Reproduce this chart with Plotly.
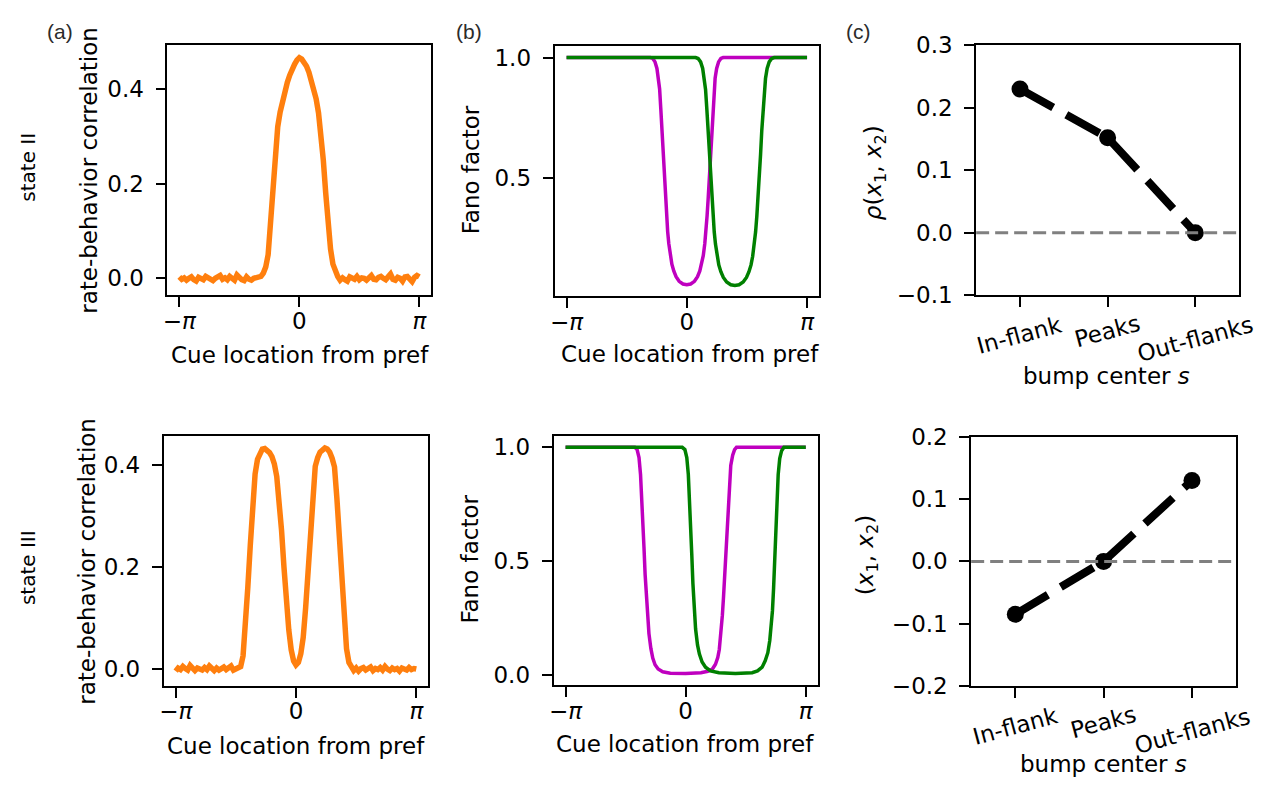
import numpy as np
import plotly.graph_objects as go

W, H = 1266, 792
PI = np.pi

# ---------------- data ----------------
cue_x = np.linspace(-PI, PI, 101)

rb_state2 = [
    0.003, -0.002, 0.001, -0.004, 0.000, 0.003, -0.003, -0.006, 0.002, 0.000,
    -0.003, 0.004, 0.001, -0.002, -0.005, 0.000, 0.003, 0.006, -0.002, 0.001,
    -0.003, 0.004, 0.000, -0.004, 0.007, 0.001, -0.003, -0.005, 0.003, -0.002,
    -0.004, 0.000, 0.002, 0.003,
    0.004, 0.011, 0.024, 0.050, 0.113, 0.195, 0.264, 0.321, 0.352, 0.377,
    0.398, 0.415, 0.430, 0.444, 0.453, 0.462, 0.467, 0.464, 0.458, 0.449,
    0.436, 0.420, 0.400, 0.380, 0.350, 0.310, 0.250, 0.180, 0.112, 0.062,
    0.030, 0.012, 0.004,
    -0.004, 0.001, -0.003, -0.006, 0.003, 0.000, -0.002, 0.004, -0.003, 0.001,
    0.000, -0.004, 0.003, 0.006, -0.002, -0.003, 0.002, 0.004, 0.000, -0.003,
    0.003, 0.009, -0.002, -0.004, 0.002, 0.000, -0.006, 0.003, 0.004, -0.003,
    -0.007, 0.002, 0.006, 0.003,
]

rb_state3 = [
    -0.004, 0.002, -0.001, 0.005, 0.001, -0.002, 0.007, 0.000, -0.003, 0.002,
    0.001, -0.002, 0.003, -0.001, 0.006, 0.000, -0.003, 0.002, -0.002, 0.001,
    0.004, -0.001, 0.002, 0.006, -0.002, 0.001, 0.002,
    0.005, 0.026, 0.083, 0.162, 0.243, 0.320, 0.383, 0.412, 0.426, 0.432,
    0.433, 0.429, 0.425, 0.417, 0.403, 0.378, 0.336, 0.272, 0.200, 0.130,
    0.077, 0.038, 0.016, 0.008, 0.013, 0.030, 0.062, 0.120, 0.187, 0.270,
    0.355, 0.398, 0.415, 0.426, 0.430, 0.434, 0.432, 0.426, 0.414, 0.397,
    0.335, 0.268, 0.180, 0.098, 0.040, 0.013, 0.004,
    -0.003, 0.002, -0.004, 0.001, 0.003, -0.002, 0.000, 0.004, -0.003, 0.001,
    -0.001, 0.003, -0.002, 0.005, 0.000, -0.003, 0.002, -0.001, 0.001, -0.004,
    0.002, 0.000, -0.002, 0.003, -0.001, 0.001, 0.000,
]

# Fano factor, state II
fano2_m_x = [-3.1416, -0.95, -0.89, -0.83, -0.78, -0.74, -0.71, -0.68, -0.65, -0.62,
             -0.59, -0.56, -0.53, -0.50, -0.47, -0.43, -0.39, -0.34, -0.28, -0.20,
             -0.10, 0.0, 0.10, 0.20, 0.28, 0.34, 0.39, 0.43, 0.47, 0.50,
             0.53, 0.56, 0.59, 0.62, 0.65, 0.68, 0.71, 0.74, 0.78, 0.83,
             0.89, 0.95, 3.1416]
fano2_m_y = [1.0, 1.0, 0.996, 0.982, 0.955, 0.915, 0.87, 0.79, 0.70, 0.60,
             0.51, 0.42, 0.345, 0.28, 0.23, 0.18, 0.145, 0.117, 0.093, 0.074,
             0.063, 0.060, 0.063, 0.074, 0.093, 0.117, 0.145, 0.18, 0.23, 0.28,
             0.345, 0.42, 0.51, 0.60, 0.70, 0.79, 0.87, 0.915, 0.955, 0.982,
             0.996, 1.0, 1.0]
fano2_g_x = [-3.1416, 0.231, 0.296, 0.361, 0.415, 0.458, 0.490, 0.523, 0.555, 0.587,
             0.620, 0.652, 0.685, 0.717, 0.749, 0.793, 0.836, 0.890, 0.955, 1.041,
             1.149, 1.257, 1.365, 1.473, 1.559, 1.624, 1.678, 1.721, 1.765, 1.797,
             1.829, 1.862, 1.894, 1.927, 1.959, 1.991, 2.024, 2.056, 2.099, 2.153,
             2.218, 2.283, 3.1416]
fano2_g_y = [1.0, 1.0, 0.996, 0.982, 0.955, 0.913, 0.868, 0.788, 0.698, 0.598,
             0.508, 0.418, 0.343, 0.278, 0.228, 0.178, 0.142, 0.114, 0.090, 0.071,
             0.060, 0.057, 0.060, 0.071, 0.090, 0.114, 0.142, 0.178, 0.228, 0.278,
             0.343, 0.418, 0.508, 0.598, 0.698, 0.788, 0.868, 0.913, 0.955, 0.982,
             0.996, 1.0, 1.0]

# Fano factor, state III
fano3_m_x = [-3.1416, -1.33, -1.27, -1.22, -1.18, -1.15, -1.12, -1.09, -1.06, -1.03,
             -1.00, -0.96, -0.91, -0.86, -0.80, -0.72, -0.60, -0.40, 0.0, 0.40,
             0.58, 0.70, 0.78, 0.84, 0.88, 0.92, 0.96, 0.99, 1.02, 1.05,
             1.08, 1.11, 1.14, 1.18, 1.23, 1.28, 1.33, 3.1416]
fano3_m_y = [1.0, 1.0, 0.99, 0.955, 0.88, 0.79, 0.68, 0.56, 0.44, 0.34,
             0.26, 0.18, 0.115, 0.072, 0.043, 0.024, 0.012, 0.006, 0.004, 0.008,
             0.014, 0.024, 0.045, 0.075, 0.11, 0.17, 0.26, 0.34, 0.44, 0.55,
             0.66, 0.76, 0.85, 0.92, 0.965, 0.99, 1.0, 1.0]
fano3_g_x = [-3.1416, -0.09, -0.02, 0.03, 0.07, 0.10, 0.13, 0.16, 0.19, 0.22,
             0.26, 0.31, 0.36, 0.43, 0.52, 0.65, 0.87, 1.30, 1.74, 1.88,
             2.00, 2.08, 2.15, 2.20, 2.24, 2.27, 2.30, 2.33, 2.36, 2.39,
             2.42, 2.46, 2.51, 2.57, 3.1416]
fano3_g_y = [1.0, 1.0, 0.99, 0.955, 0.88, 0.78, 0.66, 0.53, 0.40, 0.30,
             0.20, 0.13, 0.09, 0.055, 0.032, 0.016, 0.008, 0.004, 0.008, 0.016,
             0.032, 0.06, 0.096, 0.15, 0.21, 0.28, 0.38, 0.52, 0.66, 0.78,
             0.88, 0.95, 0.985, 1.0, 1.0]

bump_cats = ["In-flank", "Peaks", "Out-flanks"]
rho_state2 = [0.23, 0.152, 0.0]
rho_state3 = [-0.085, 0.0, 0.13]

pi_tickvals = [-PI, 0, PI]
pi_ticktext = ["\u2212<i>\u03c0</i>", "0", "<i>\u03c0</i>"]

# ---------------- figure ----------------
ORANGE = "#ff7f0e"
MAGENTA = "#bf00bf"
GREEN = "#008000"
FONT = "DejaVu Sans"

fig = go.Figure()

def dom_x(a, b):
    return [a / W, b / W]

def dom_y(top, bottom):
    return [1 - bottom / H, 1 - top / H]

# subplot boxes (pixels): left, right, top, bottom
boxes = {
    1: (163, 428, 33.3, 291.7),
    2: (551.7, 817.3, 34.3, 292.7),
    3: (975, 1239, 33.3, 291.7),
    4: (159.3, 425, 437.7, 695.7),
    5: (550.7, 816, 437.3, 695),
    6: (970, 1236, 438.3, 695.7),
}

xr_pi = [-PI - 0.314, PI + 0.314]
yranges = {
    1: [-0.0356, 0.4935],
    2: [0.013, 1.047],
    3: [-0.1, 0.3],
    4: [-0.033, 0.457],
    5: [-0.047, 1.05],
    6: [-0.2, 0.2],
}
ytick = {
    1: ([0.0, 0.2, 0.4], ["0.0", "0.2", "0.4"]),
    2: ([0.5, 1.0], ["0.5", "1.0"]),
    3: ([-0.1, 0.0, 0.1, 0.2, 0.3], ["\u22120.1", "0.0", "0.1", "0.2", "0.3"]),
    4: ([0.0, 0.2, 0.4], ["0.0", "0.2", "0.4"]),
    5: ([0.0, 0.5, 1.0], ["0.0", "0.5", "1.0"]),
    6: ([-0.2, -0.1, 0.0, 0.1, 0.2], ["\u22120.2", "\u22120.1", "0.0", "0.1", "0.2"]),
}

axis_common = dict(showline=True, mirror=True, linecolor="black", linewidth=1.7,
                   ticks="outside", ticklen=10, tickwidth=1.7, tickcolor="black",
                   showgrid=False, zeroline=False,
                   tickfont=dict(family=FONT, size=23, color="black"))

layout_axes = {}
for i, (l, r, t, b) in boxes.items():
    xa = dict(axis_common, domain=dom_x(l, r), anchor=f"y{i}")
    ya = dict(axis_common, domain=dom_y(t, b), anchor=f"x{i}",
              range=yranges[i], tickvals=ytick[i][0], ticktext=ytick[i][1],
              ticklabelstandoff=7)
    if i in (3, 6):
        xa.update(type="category", range=[-0.5, 2.5], showticklabels=False,
                  categoryorder="array", categoryarray=bump_cats)
    else:
        xa.update(range=xr_pi, tickvals=pi_tickvals, ticktext=pi_ticktext,
                  ticklabelstandoff=-6)
    layout_axes[f"xaxis{i}"] = xa
    layout_axes[f"yaxis{i}"] = ya

# traces
fig.add_trace(go.Scatter(x=cue_x, y=rb_state2, mode="lines", xaxis="x1", yaxis="y1",
                         line=dict(color=ORANGE, width=5.5)))
fig.add_trace(go.Scatter(x=fano2_m_x, y=fano2_m_y, mode="lines", xaxis="x2", yaxis="y2",
                         line=dict(color=MAGENTA, width=3.5)))
fig.add_trace(go.Scatter(x=fano2_g_x, y=fano2_g_y, mode="lines", xaxis="x2", yaxis="y2",
                         line=dict(color=GREEN, width=3.5)))
fig.add_trace(go.Scatter(x=bump_cats, y=rho_state2, mode="lines+markers", xaxis="x3", yaxis="y3",
                         line=dict(color="black", width=8, dash="38px,15px"),
                         marker=dict(color="black", size=17)))
fig.add_trace(go.Scatter(x=cue_x, y=rb_state3, mode="lines", xaxis="x4", yaxis="y4",
                         line=dict(color=ORANGE, width=5.5)))
fig.add_trace(go.Scatter(x=fano3_m_x, y=fano3_m_y, mode="lines", xaxis="x5", yaxis="y5",
                         line=dict(color=MAGENTA, width=3.5)))
fig.add_trace(go.Scatter(x=fano3_g_x, y=fano3_g_y, mode="lines", xaxis="x5", yaxis="y5",
                         line=dict(color=GREEN, width=3.5)))
fig.add_trace(go.Scatter(x=bump_cats, y=rho_state3, mode="lines+markers", xaxis="x6", yaxis="y6",
                         line=dict(color="black", width=8, dash="38px,15px"),
                         marker=dict(color="black", size=17)))

shapes = []
for i in (3, 6):
    shapes.append(dict(type="line", xref=f"x{i} domain", x0=0, x1=1, yref=f"y{i}", y0=0, y1=0,
                       line=dict(color="gray", width=3, dash="13px,6px"), layer="above"))

def P(px, py):
    return px / W, 1 - py / H

annotations = []

def ann(text, px, py, size=23, angle=0, family=FONT, color="black"):
    x, y = P(px, py)
    annotations.append(dict(text=text, x=x, y=y, xref="paper", yref="paper",
                            xanchor="center", yanchor="middle", showarrow=False,
                            textangle=angle, font=dict(family=family, size=size, color=color)))

# panel labels
ann("(a)", 55, 19, size=21, family="Liberation Sans", color="#2b2b2b")
ann("(b)", 466, 19, size=21, family="Liberation Sans", color="#2b2b2b")
ann("(c)", 857, 19, size=21, family="Liberation Sans", color="#2b2b2b")

# row labels
ann("state II", 23, 159, size=20, angle=-90)
ann("state III", 23, 573, size=20, angle=-90)

# y titles
ann("rate-behavior correlation", 85, 162.5, angle=-90)
ann("rate-behavior correlation", 82, 566.7, angle=-90)
ann("Fano factor", 468, 162.5, angle=-90)
ann("Fano factor", 467, 565, angle=-90)
ann("<i>\u03c1</i>(<i>x</i><sub>1</sub>, <i>x</i><sub>2</sub>)", 873, 165, angle=-90)
ann("(<i>x</i><sub>1</sub>, <i>x</i><sub>2</sub>)", 865, 561, angle=-90)

# x titles
ann("Cue location from pref", 296, 354)
ann("Cue location from pref", 688, 353)
ann("bump center <i>s</i>", 1106, 375)
ann("Cue location from pref", 292.5, 758)
ann("Cue location from pref", 682.5, 756)
ann("bump center <i>s</i>", 1102.5, 777)

# rotated category labels for (c)
cat_label_y_top = [333, 329, 337]
cat_label_y_bot = [737, 733, 742]
for cat, yy in zip(bump_cats, cat_label_y_top):
    annotations.append(dict(text=cat, x=cat, y=1 - yy / H, xref="x3", yref="paper",
                            xanchor="center", yanchor="middle", showarrow=False, textangle=-15,
                            font=dict(family=FONT, size=23, color="black")))
for cat, yy in zip(bump_cats, cat_label_y_bot):
    annotations.append(dict(text=cat, x=cat, y=1 - yy / H, xref="x6", yref="paper",
                            xanchor="center", yanchor="middle", showarrow=False, textangle=-15,
                            font=dict(family=FONT, size=23, color="black")))

fig.update_layout(width=W, height=H, autosize=False,
                  margin=dict(l=0, r=0, t=0, b=0),
                  paper_bgcolor="white", plot_bgcolor="white",
                  showlegend=False, shapes=shapes, annotations=annotations,
                  font=dict(family=FONT, size=23, color="black"),
                  **layout_axes)

fig.write_html("out.html")
